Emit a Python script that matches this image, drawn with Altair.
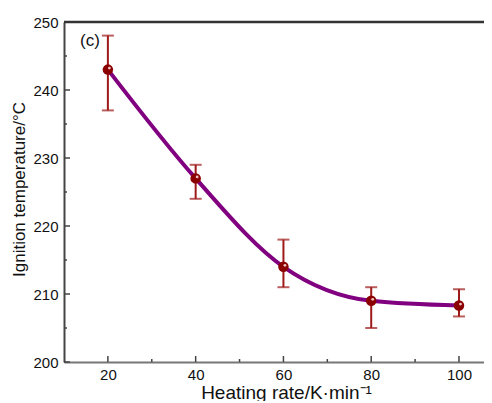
import altair as alt
import pandas as pd

rates = [20, 40, 60, 80, 100]
temps = [243.0, 227.0, 214.0, 209.0, 208.3]
err_lo = [237.0, 224.0, 211.0, 205.0, 206.7]
err_hi = [248.0, 229.0, 218.0, 211.0, 210.7]

x_major = [20, 40, 60, 80, 100]
x_minor = [30, 50, 70, 90]
y_major = [200, 210, 220, 230, 240, 250]
y_minor = [205, 215, 225, 235, 245]

FONT = "Liberation Sans"
W, H = 420, 340

df = pd.DataFrame({"x": rates, "y": temps, "lo": err_lo, "hi": err_hi})

xs = alt.Scale(domain=[10, 105.7], nice=False, zero=False)
ys = alt.Scale(domain=[200, 250], nice=False, zero=False)

xaxis = alt.Axis(values=x_major, ticks=False, grid=False, labelFontSize=15, labelFont=FONT,
                 labelColor="#111", labelPadding=5, title="Heating rate/K·min⁻¹",
                 titleFont=FONT, titleFontSize=19, titleFontWeight="normal", titleColor="#111",
                 titleX=222, titleY=36, titleBaseline="alphabetic",
                 domainColor="#777", domainWidth=2)
yaxis = alt.Axis(values=y_major, ticks=False, grid=False, labelFontSize=15, labelFont=FONT,
                 labelColor="#111", labelPadding=6, title="Ignition temperature/°C",
                 titleFont=FONT, titleFontSize=17, titleFontWeight="normal", titleColor="#111",
                 titleX=-45, titleY=167, titleBaseline="middle", titleAngle=270,
                 domainColor="#444", domainWidth=2)

X = alt.X("x:Q", scale=xs, axis=xaxis)
Y = alt.Y("y:Q", scale=ys, axis=yaxis)

line = alt.Chart(df).mark_line(color="#800080", strokeWidth=4, interpolate="monotone").encode(x=X, y=Y)

bars = alt.Chart(df).mark_rule(color="#9e1a1a", strokeWidth=2).encode(
    x=X, y=alt.Y("lo:Q", scale=ys, axis=yaxis), y2="hi:Q")
cap_hi = alt.Chart(df).mark_tick(color="#9e1a1a", orient="horizontal", size=12, thickness=2).encode(
    x=X, y=alt.Y("hi:Q", scale=ys, axis=yaxis))
cap_lo = alt.Chart(df).mark_tick(color="#9e1a1a", orient="horizontal", size=12, thickness=2).encode(
    x=X, y=alt.Y("lo:Q", scale=ys, axis=yaxis))

pts = alt.Chart(df).mark_circle(color="#8b0000", size=110, opacity=1).encode(x=X, y=Y)
hl = alt.Chart(df).mark_circle(color="#f2c4c4", size=8, opacity=1, xOffset=1.5, yOffset=-1.5).encode(x=X, y=Y)

xmaj = alt.Chart(pd.DataFrame({"x": x_major})).mark_rule(color="#444", strokeWidth=1.5).encode(
    x=X, y=alt.value(H), y2=alt.value(H - 6))
xmin = alt.Chart(pd.DataFrame({"x": x_minor})).mark_rule(color="#444", strokeWidth=1.5).encode(
    x=X, y=alt.value(H), y2=alt.value(H - 3))
ymaj = alt.Chart(pd.DataFrame({"y": y_major})).mark_rule(color="#444", strokeWidth=1.5).encode(
    y=Y, x=alt.value(0), x2=alt.value(6))
ymin = alt.Chart(pd.DataFrame({"y": y_minor})).mark_rule(color="#444", strokeWidth=1.5).encode(
    y=Y, x=alt.value(0), x2=alt.value(3))
top = alt.Chart(pd.DataFrame({"y": [250]})).mark_rule(color="#333", strokeWidth=2.5).encode(
    y=Y, x=alt.value(0), x2=alt.value(W))

label = alt.Chart(pd.DataFrame({"t": ["(c)"]})).mark_text(
    font=FONT, fontSize=17, align="left", baseline="middle", color="#111").encode(
    text="t:N", x=alt.value(16), y=alt.value(19))

chart = alt.layer(line, bars, cap_hi, cap_lo, pts, hl, xmaj, xmin, ymaj, ymin, top, label).properties(
    width=W, height=H,
    autosize=alt.AutoSizeParams(type="none"),
    padding={"left": 56, "top": 14, "right": 0, "bottom": 39},
).configure_view(strokeWidth=0).configure(background="white")

chart.save("out.html", embed_options={"renderer": "svg", "actions": False})
